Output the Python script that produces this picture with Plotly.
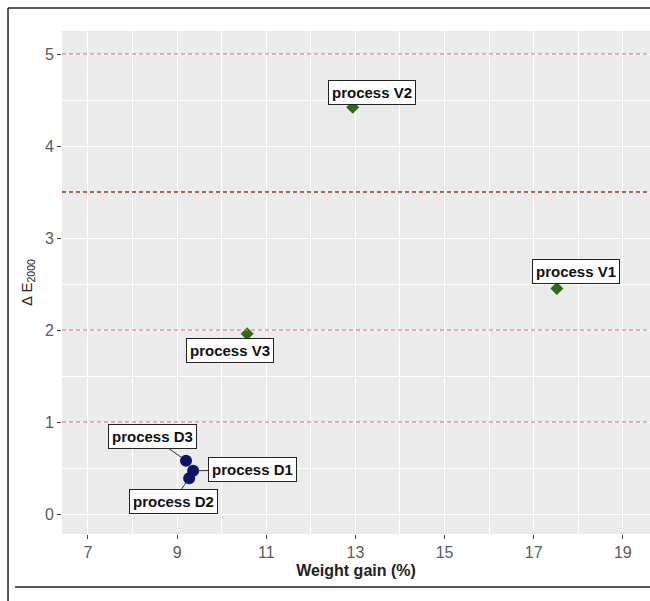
import plotly.graph_objects as go

# ---- data ----
names = ["process V1", "process V2", "process V3", "process D1", "process D2", "process D3"]
weight_gain = [17.52, 12.94, 10.57, 9.36, 9.27, 9.20]
delta_e = [2.45, 4.42, 1.96, 0.47, 0.39, 0.58]
groups = ["V", "V", "V", "D", "D", "D"]
thresholds = [1, 2, 3.5, 5]
x_ticks = [7, 9, 11, 13, 15, 17, 19]
y_ticks = [0, 1, 2, 3, 4, 5]

# ---- styling (layout only) ----
group_style = {
    "V": dict(symbol="diamond", size=10, color="#2E6B12"),
    "D": dict(symbol="circle", size=12, color="#0d1566"),
}
# label box centre offsets (pixels) relative to point
label_offsets = {
    "process V1": (19, -17, False),
    "process V2": (19, -15, False),
    "process V3": (-17, 17, False),
    "process D1": (59, -1, True),
    "process D2": (-16, 23, True),
    "process D3": (-34, -24, True),
}

fig = go.Figure()

# threshold lines
for t in thresholds:
    strong = (t == 3.5)
    fig.add_shape(type="line", xref="paper", yref="y", x0=0, x1=1, y0=t, y1=t,
                  line=dict(color="#A82828" if strong else "#D46A6A",
                            width=1.6 if strong else 1.0, dash="4px,3px"),
                  layer="above")

for g in ["V", "D"]:
    idx = [i for i, gg in enumerate(groups) if gg == g]
    st = group_style[g]
    fig.add_trace(go.Scatter(
        x=[weight_gain[i] for i in idx],
        y=[delta_e[i] for i in idx],
        mode="markers",
        marker=dict(symbol=st["symbol"], size=st["size"], color=st["color"],
                    line=dict(width=0)),
        showlegend=False,
        hoverinfo="skip",
    ))

# labels
for n, xv, yv in zip(names, weight_gain, delta_e):
    ax, ay, seg = label_offsets[n]
    fig.add_annotation(
        x=xv, y=yv, text="<b>" + n + "</b>",
        showarrow=True, ax=ax, ay=ay, arrowhead=0, arrowwidth=1,
        arrowcolor="#333333" if seg else "rgba(0,0,0,0)", standoff=5,
        font=dict(family="Liberation Sans, Arial", size=15, color="#111111"),
        bgcolor="white", bordercolor="#222222", borderwidth=1, borderpad=3,
    )

# outer frame lines (image border)
frame = dict(color="#222222", width=1.5)
fig.add_shape(type="line", xref="paper", yref="paper", x0=-0.0918, x1=-0.0918,
              y0=-0.14, y1=1.0457, line=frame)
fig.add_shape(type="line", xref="paper", yref="paper", x0=-0.0918, x1=1.0,
              y0=1.0457, y1=1.0457, line=frame)
fig.add_shape(type="line", xref="paper", yref="paper", x0=-0.0799, x1=1.0,
              y0=-0.1054, y1=-0.1054, line=dict(color="#555555", width=2))

axis_font = dict(family="Liberation Sans, Arial", size=16, color="#5a5a5a")

fig.update_layout(
    width=650, height=601,
    margin=dict(l=62, r=0, t=31, b=67),
    paper_bgcolor="white",
    plot_bgcolor="#EBEBEB",
    font=dict(family="Liberation Sans, Arial"),
    xaxis=dict(
        range=[6.417, 19.61], tickvals=x_ticks, ticktext=[str(v) for v in x_ticks],
        showgrid=True, gridcolor="white", gridwidth=1.2, zeroline=False,
        ticks="outside", ticklen=4, tickcolor="#444444", tickfont=axis_font,
        minor=dict(tickvals=[6, 8, 10, 12, 14, 16, 18], showgrid=True,
                   gridcolor="white", gridwidth=0.6, ticklen=0),
        title=dict(text="<b>Weight gain (%)</b>",
                   font=dict(family="Liberation Sans, Arial", size=16, color="#222222"),
                   standoff=4),
        showline=False,
    ),
    yaxis=dict(
        range=[-0.217, 5.25], tickvals=y_ticks, ticktext=[str(v) for v in y_ticks],
        showgrid=True, gridcolor="white", gridwidth=1.2, zeroline=False,
        ticks="outside", ticklen=4, tickcolor="#444444", tickfont=axis_font,
        minor=dict(tickvals=[0.5, 1.5, 2.5, 3.5, 4.5], showgrid=True,
                   gridcolor="white", gridwidth=0.6, ticklen=0),
        title=dict(text="Δ E<sub>2000</sub>",
                   font=dict(family="Liberation Sans, Arial", size=15, color="#222222"),
                   standoff=8),
        showline=False,
    ),
)

fig.write_html("out.html")
